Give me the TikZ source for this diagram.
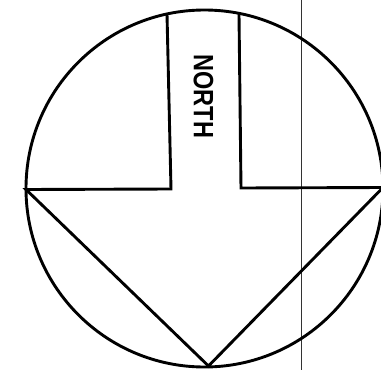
\documentclass[tikz,border=0pt]{standalone}
\usepackage{fontspec}
\usepackage{graphicx}
\setmainfont{Liberation Sans}
\tikzset{
  ink/.style={line width=2.9pt, line join=miter, line cap=round, black},
  ruleline/.style={line width=0.8pt, black!80},
  label/.style={inner sep=0pt, font=\bfseries\fontsize{28}{28}\selectfont, rotate=-90}
}
\begin{document}
\begin{tikzpicture}[x=1pt,y=-1pt]
\useasboundingbox (0,0) rectangle (381,370);
\clip (0,0) rectangle (381,370);
\coordinate (c) at (204.5,188.5);
\coordinate (L) at (26,189.5);
\coordinate (R) at (383,187.5);
\coordinate (B) at (208.5,366);
\coordinate (s1t) at (167,14);
\coordinate (s1b) at (171,189);
\coordinate (s2t) at (239,14);
\coordinate (s2b) at (241,188);
\coordinate (vt) at (301.5,0);
\coordinate (vb) at (301.5,370);
\draw[ruleline] (vt) -- (vb);
\draw[ink] (c) circle[radius=178.5];
\draw[ink] (s1t) -- (s1b) -- (L) -- (B) -- (R) -- (s2b) -- (s2t);
\node[label] (north) at (203.5,96.5) {\scalebox{0.84}[1]{NORTH}};
\end{tikzpicture}
\end{document}
